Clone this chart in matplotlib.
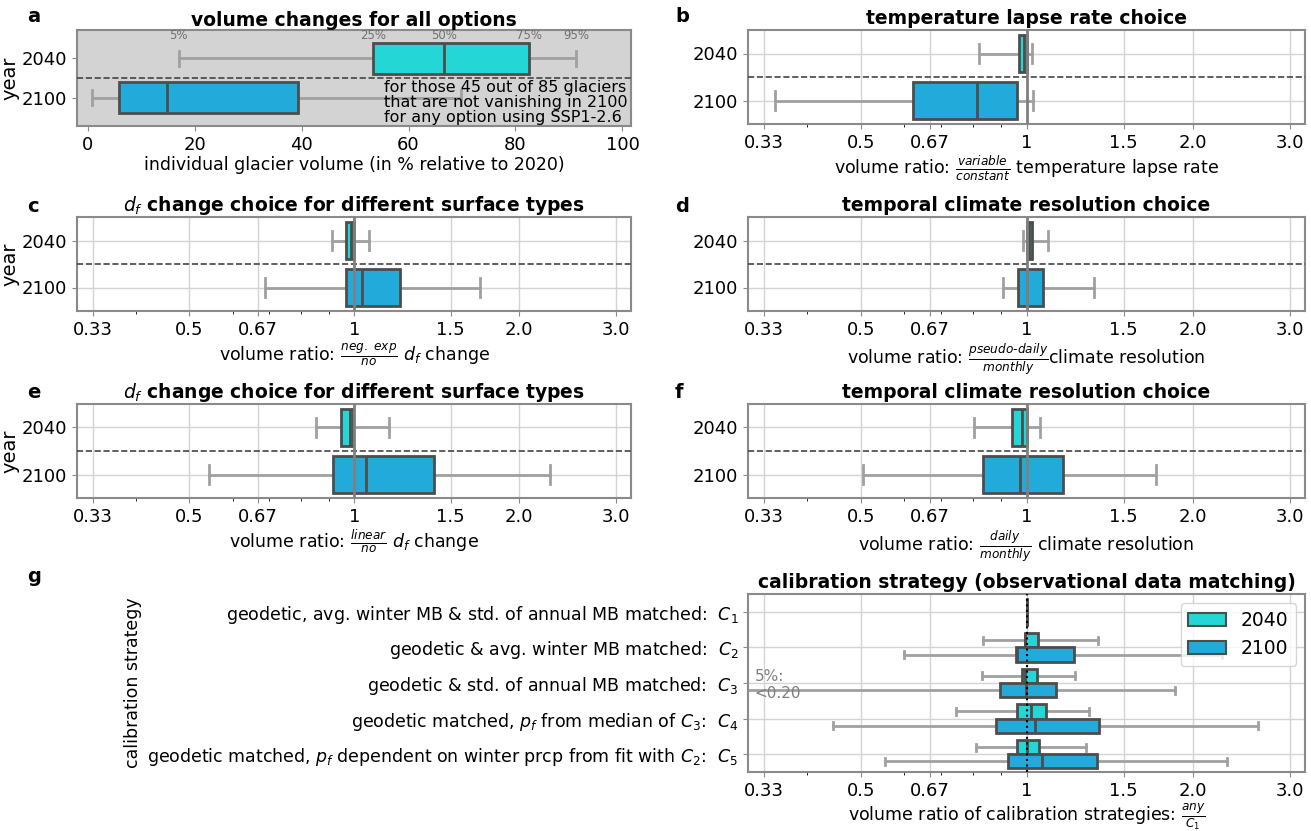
import matplotlib
matplotlib.use('Agg')
import matplotlib.pyplot as plt
import matplotlib.ticker as mticker
from matplotlib.patches import Patch

plt.rcParams['font.family'] = ['DejaVu Sans']

# ---- data: five-number summaries (5%, 25%, 50%, 75%, 95%) ----
years = ['2040', '2100']

a_2040 = [17.0, 53.4, 66.6, 82.6, 91.3]
a_2100 = [0.8, 5.9, 14.9, 39.4, 69.8]
pct_labels = ['5%', '25%', '50%', '75%', '95%']

b_2040 = [0.82, 0.967, 0.99, 1.003, 1.023]
b_2100 = [0.349, 0.623, 0.812, 0.961, 1.026]
c_2040 = [0.91, 0.966, 0.985, 1.0, 1.063]
c_2100 = [0.687, 0.966, 1.034, 1.21, 1.70]
d_2040 = [0.983, 1.0, 1.009, 1.023, 1.095]
d_2100 = [0.905, 0.964, 1.0, 1.072, 1.326]
e_2040 = [0.853, 0.947, 0.983, 0.997, 1.158]
e_2100 = [0.544, 0.915, 1.052, 1.397, 2.28]
f_2040 = [0.804, 0.939, 0.979, 1.0, 1.057]
f_2100 = [0.504, 0.833, 0.973, 1.164, 1.72]

g_labels = [r'geodetic, avg. winter MB & std. of annual MB matched:  $C_1$',
            r'geodetic & avg. winter MB matched:  $C_2$',
            r'geodetic & std. of annual MB matched:  $C_3$',
            r'geodetic matched, $p_f$ from median of $C_3$:  $C_4$',
            r'geodetic matched, $p_f$ dependent on winter prcp from fit with $C_2$:  $C_5$']
g_2040 = [[1.0, 1.0, 1.0, 1.0, 1.0],
          [0.834, 0.993, 0.995, 1.05, 1.347],
          [0.829, 0.979, 0.993, 1.043, 1.226],
          [0.744, 0.961, 1.019, 1.083, 1.297],
          [0.809, 0.961, 1.003, 1.054, 1.279]]
g_2100 = [[1.0, 1.0, 1.0, 1.0, 1.0],
          [0.599, 0.956, 0.962, 1.218, 2.26],
          [0.18, 0.896, 0.997, 1.128, 1.86],
          [0.446, 0.879, 1.034, 1.352, 2.625],
          [0.552, 0.923, 1.065, 1.34, 2.31]]

ratio_ticks = [1/3, 0.5, 2/3, 1, 1.5, 2, 3]
ratio_ticklabels = ['0.33', '0.5', '0.67', '1', '1.5', '2.0', '3.0']

# ---- style ----
col_2040 = '#24d6d6'
col_2100 = '#22aadb'
edge = '#4d4d4d'
whisk = '#a0a0a0'
spine = '#8a8a8a'

W, H = 1311, 831
fig = plt.figure(figsize=(W / 100, H / 100), dpi=100)


def px_axes(l, t, r, b):
    return fig.add_axes([l / W, 1 - b / H, (r - l) / W, (b - t) / H])


def five(v):
    return dict(whislo=v[0], q1=v[1], med=v[2], q3=v[3], whishi=v[4], fliers=[])


def draw_boxes(ax, summaries, positions, color, width):
    bp = ax.bxp([five(v) for v in summaries], positions=positions, widths=width,
                orientation='horizontal', patch_artist=True, showfliers=False,
                manage_ticks=False,
                boxprops=dict(facecolor=color, edgecolor=edge, linewidth=2),
                whiskerprops=dict(color=whisk, linewidth=2),
                capprops=dict(color=whisk, linewidth=2),
                medianprops=dict(color=edge, linewidth=2))
    for art in bp['boxes'] + bp['medians']:
        art.set_zorder(4)
    return bp


def style_axes(ax):
    for s in ax.spines.values():
        s.set_color(spine)
        s.set_linewidth(1.5)
    ax.tick_params(labelsize=13, color=spine)


def year_panel(ax, v2040, v2100, title, xlabel, ylabel=True):
    draw_boxes(ax, [v2040], [0], col_2040, 0.8)
    draw_boxes(ax, [v2100], [1], col_2100, 0.8)
    ax.set_xscale('log')
    ax.set_xlim(0.312, 3.2)
    ax.xaxis.set_major_locator(mticker.FixedLocator(ratio_ticks))
    ax.xaxis.set_major_formatter(mticker.FixedFormatter(ratio_ticklabels))
    ax.xaxis.set_minor_formatter(mticker.NullFormatter())
    ax.set_ylim(1.5, -0.5)
    ax.set_yticks([0, 1])
    ax.set_yticklabels(years)
    ax.grid(True, which='major', color='#d4d4d4', linewidth=1, zorder=0)
    ax.set_axisbelow(True)
    ax.axhline(0.5, color='#444444', ls='--', lw=1.2, zorder=5)
    ax.axvline(1, color='#808080', lw=2, zorder=6)
    ax.set_title(title, fontsize=13.5, fontweight='bold', pad=4)
    ax.set_xlabel(xlabel, fontsize=12.5, labelpad=2)
    if ylabel:
        ax.set_ylabel('year', fontsize=14, labelpad=2)
    style_axes(ax)


# ---- panel a: absolute volume ----
ax_a = px_axes(77, 30, 631, 126)
ax_a.set_facecolor('#d3d3d3')
draw_boxes(ax_a, [a_2040], [0], col_2040, 0.78)
draw_boxes(ax_a, [a_2100], [1], col_2100, 0.78)
ax_a.set_xlim(-2, 101.6)
ax_a.set_ylim(1.72, -0.72)
ax_a.set_yticks([0, 1])
ax_a.set_yticklabels(years)
ax_a.axhline(0.5, color='#444444', ls='--', lw=1.2, zorder=5)
for val, lab in zip(a_2040, pct_labels):
    ax_a.text(val, -0.42, lab, ha='center', va='bottom', fontsize=8.5, color='#707070')
ax_a.text(55.5, 0.56, 'for those 45 out of 85 glaciers\nthat are not vanishing in 2100\nfor any option using SSP1-2.6',
          ha='left', va='top', fontsize=11.5, linespacing=1.0)
ax_a.set_title('volume changes for all options', fontsize=13.5, fontweight='bold', pad=3)
ax_a.set_xlabel('individual glacier volume (in % relative to 2020)', fontsize=12.5, labelpad=2)
ax_a.set_ylabel('year', fontsize=14, labelpad=2)
style_axes(ax_a)

# ---- panels b-f: volume ratios ----
ax_b = px_axes(748, 30, 1305, 124)
year_panel(ax_b, b_2040, b_2100, 'temperature lapse rate choice',
           r'volume ratio: $\frac{variable}{constant}$ temperature lapse rate', ylabel=False)

ax_c = px_axes(77, 217, 631, 311)
year_panel(ax_c, c_2040, c_2100, r'$d_f$ change choice for different surface types',
           r'volume ratio: $\frac{neg.\ exp}{no}$ $d_f$ change')

ax_d = px_axes(748, 217, 1305, 311)
year_panel(ax_d, d_2040, d_2100, 'temporal climate resolution choice',
           'volume ratio: $\\frac{pseudo\u2010daily}{monthly}$climate resolution', ylabel=False)

ax_e = px_axes(77, 404, 631, 498)
year_panel(ax_e, e_2040, e_2100, r'$d_f$ change choice for different surface types',
           r'volume ratio: $\frac{linear}{no}$ $d_f$ change')

ax_f = px_axes(748, 404, 1305, 498)
year_panel(ax_f, f_2040, f_2100, 'temporal climate resolution choice',
           r'volume ratio: $\frac{daily}{monthly}$ climate resolution', ylabel=False)

# ---- panel g: calibration strategies ----
ax_g = px_axes(748, 594, 1305, 772)
pos = list(range(len(g_labels)))
draw_boxes(ax_g, g_2040, [p - 0.2 for p in pos], col_2040, 0.4)
draw_boxes(ax_g, g_2100, [p + 0.2 for p in pos], col_2100, 0.4)
ax_g.set_xscale('log')
ax_g.set_xlim(0.312, 3.2)
ax_g.xaxis.set_major_locator(mticker.FixedLocator(ratio_ticks))
ax_g.xaxis.set_major_formatter(mticker.FixedFormatter(ratio_ticklabels))
ax_g.xaxis.set_minor_formatter(mticker.NullFormatter())
ax_g.set_ylim(len(g_labels) - 0.5, -0.5)
ax_g.set_yticks(pos)
ax_g.set_yticklabels(g_labels)
ax_g.grid(True, which='major', color='#d4d4d4', linewidth=1, zorder=0)
ax_g.set_axisbelow(True)
ax_g.axvline(1, color='black', ls=':', lw=1.5, zorder=6)
ax_g.text(0.012, 2.05, '5%:\n<0.20', transform=ax_g.get_yaxis_transform(),
          ha='left', va='center', fontsize=11, color='#808080', zorder=7)
ax_g.set_title('calibration strategy (observational data matching)', fontsize=13.5,
               fontweight='bold', pad=4)
ax_g.set_xlabel(r'volume ratio of calibration strategies: $\frac{any}{C_1}$', fontsize=12.5, labelpad=1)
ax_g.set_ylabel('calibration strategy', fontsize=12.5, labelpad=4)
style_axes(ax_g)
ax_g.tick_params(axis='y', labelsize=12.5)
handles = [Patch(facecolor=col_2040, edgecolor=edge, linewidth=1.5, label='2040'),
           Patch(facecolor=col_2100, edgecolor=edge, linewidth=1.5, label='2100')]
ax_g.legend(handles=handles, loc='upper right', fontsize=13.5, framealpha=0.8)

# ---- panel letters ----
for letter, x, y in [('a', 27, 16), ('b', 675, 16), ('c', 27, 206), ('d', 675, 206),
                     ('e', 27, 392), ('f', 675, 392), ('g', 27, 576)]:
    fig.text(x / W, 1 - y / H, letter, fontsize=14, fontweight='bold', va='center')

fig.savefig('out.png', dpi=100)
